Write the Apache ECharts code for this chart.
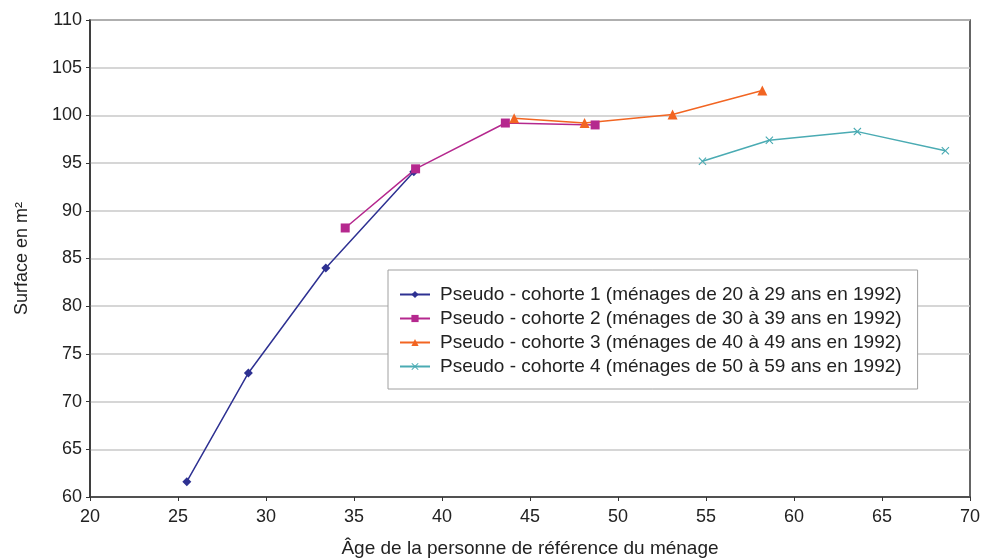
<!DOCTYPE html>
<html>
<head>
<meta charset="utf-8">
<script src="https://cdn.jsdelivr.net/npm/echarts@6/dist/echarts.min.js"></script>
<style>
  html, body { margin: 0; padding: 0; background: #fff; }
  #chart { width: 994px; height: 559px; }
</style>
</head>
<body>
<div id="chart"></div>
<script>
'use strict';

// cohort data: [age, surface]
var cohorte1 = [[25.5, 61.6], [29.0, 73.0], [33.4, 84.0], [38.4, 94.1]];
var cohorte2 = [[34.5, 88.2], [38.5, 94.4], [43.6, 99.2], [48.7, 99.0]];
var cohorte3 = [[44.1, 99.7], [48.1, 99.2], [53.1, 100.1], [58.2, 102.6]];
var cohorte4 = [[54.8, 95.2], [58.6, 97.4], [63.6, 98.3], [68.6, 96.3]];

var seriesNames = [
    'Pseudo - cohorte 1 (ménages de 20 à 29 ans en 1992)',
    'Pseudo - cohorte 2 (ménages de 30 à 39 ans en 1992)',
    'Pseudo - cohorte 3 (ménages de 40 à 49 ans en 1992)',
    'Pseudo - cohorte 4 (ménages de 50 à 59 ans en 1992)'
];
var colors = ['#2e3192', '#b5288e', '#f26522', '#4aabb3'];

var crossPath = 'path://M0,1L1,0L5,4L9,0L10,1L6,5L10,9L9,10L5,6L1,10L0,9L4,5Z';

var myChart = echarts.init(document.getElementById('chart'));

function makeSeries(i, data, symbol, size){
    return {
        name: seriesNames[i],
        type: 'line',
        data: data,
        symbol: symbol,
        symbolSize: size,
        showAllSymbol: true,
        lineStyle: { color: colors[i], width: 1.5 },
        itemStyle: { color: colors[i] },
        emphasis: { disabled: true },
        animation: false
    };
}

var option = {
    animation: false,
    textStyle: { fontFamily: 'Liberation Sans, Arial, sans-serif' },
    grid: {
        left: 90, right: 24, top: 20, bottom: 62,
        outerBoundsMode: 'none',
        containLabel: false,
        show: true,
        borderColor: '#333',
        borderWidth: 1.5
    },
    legend: {
        orient: 'vertical',
        left: 388,
        top: 270,
        padding: [15, 16, 13, 11],
        itemGap: 5,
        itemWidth: 30,
        itemHeight: 9,
        borderColor: '#a0a0a0',
        borderWidth: 1,
        backgroundColor: '#fff',
        textStyle: { fontSize: 19, color: '#222', padding: [0, 0, 0, 5] },
        data: seriesNames
    },
    xAxis: {
        type: 'value',
        min: 20, max: 70, interval: 5,
        name: 'Âge de la personne de référence du ménage',
        nameLocation: 'middle',
        nameGap: 42,
        nameTextStyle: { fontSize: 19, color: '#222' },
        axisLine: { lineStyle: { color: '#333', width: 1.5 } },
        axisTick: { show: true, length: 4, lineStyle: { color: '#333' } },
        axisLabel: { fontSize: 18, color: '#222', margin: 11 },
        splitLine: { show: false }
    },
    yAxis: {
        type: 'value',
        min: 60, max: 110, interval: 5,
        name: 'Surface en m²',
        nameLocation: 'middle',
        nameGap: 59,
        nameTextStyle: { fontSize: 18, color: '#222' },
        axisLine: { show: true, lineStyle: { color: '#333', width: 1.5 } },
        axisTick: { show: true, length: 4, lineStyle: { color: '#333' } },
        axisLabel: { fontSize: 18, color: '#222', margin: 8 },
        splitLine: { show: true, lineStyle: { color: '#c8c8c8', width: 1.5 } }
    },
    series: [
        makeSeries(0, cohorte1, 'diamond', 9),
        makeSeries(1, cohorte2, 'rect', 9),
        makeSeries(2, cohorte3, 'triangle', 10),
        makeSeries(3, cohorte4, crossPath, 8)
    ]
};

myChart.setOption(option);
</script>
</body>
</html>
